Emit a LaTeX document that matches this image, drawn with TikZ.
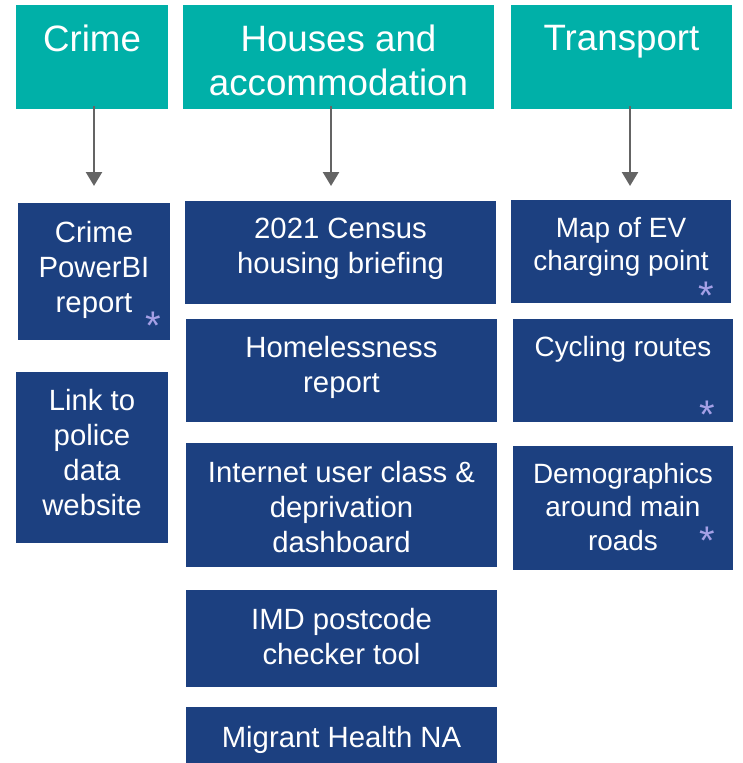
\documentclass[tikz,border=0pt]{standalone}
\usepackage{fontspec}
\setmainfont{Liberation Sans}
\usetikzlibrary{arrows.meta}

\definecolor{head teal}{RGB}{0,176,168}
\definecolor{tile blue}{RGB}{28,64,128}
\definecolor{flow grey}{RGB}{100,100,100}
\definecolor{star lilac}{RGB}{165,160,230}

\def\headfont{\fontsize{36.7}{44}\selectfont}
\def\tilefont{\fontsize{29.3}{35}\selectfont}
\def\narrowfont{\fontsize{27.9}{33.5}\selectfont}
\def\starfont{\fontsize{40}{40}\selectfont}

\tikzset{
  heading/.style={fill=head teal, draw=none, inner sep=0pt},
  headtext/.style={anchor=north, inner sep=0pt, align=center, text=white, font=\headfont},
  tile/.style={fill=tile blue, draw=none, inner sep=0pt},
  tiletext/.style={anchor=north, inner sep=0pt, align=center, text=white, font=\tilefont},
  narrowtext/.style={tiletext, font=\narrowfont},
  starmark/.style={anchor=north, inner sep=0pt, text=star lilac, font=\starfont},
  flow/.style={draw=flow grey, line width=2.5pt, -{Triangle[width=16pt,length=14pt]}}
}

\begin{document}
\begin{tikzpicture}[x=1pt, y=-1pt]
  \useasboundingbox (0,0) rectangle (743,763);

  % column headings
  \node[heading, minimum width=152pt, minimum height=104pt] (crimeHead) at (92,57) {};
  \node[heading, minimum width=311pt, minimum height=104pt] (housesHead) at (338.5,57) {};
  \node[heading, minimum width=221pt, minimum height=104pt] (transportHead) at (621.5,57) {};

  \node[headtext] (crimeTitle) at ([yshift=-20pt]crimeHead.north) {Crime};
  \node[headtext] (housesTitle) at ([yshift=-20pt]housesHead.north) {Houses and\\accommodation};
  \node[headtext] (transportTitle) at ([yshift=-20pt]transportHead.north) {Transport};

  % arrows
  \coordinate (crimeTip) at (94,186);
  \coordinate (housesTip) at (331,186);
  \coordinate (transportTip) at (630,186);

  \draw[flow] ([yshift=3pt]crimeHead.south -| crimeTip) -- (crimeTip);
  \draw[flow] ([yshift=3pt]housesHead.south -| housesTip) -- (housesTip);
  \draw[flow] ([yshift=3pt]transportHead.south -| transportTip) -- (transportTip);

  % crime tiles
  \node[tile, minimum width=152pt, minimum height=137pt] (crimeBI) at (94,271.5) {};
  \node[tile, minimum width=152pt, minimum height=171pt] (policeLink) at (92,457.5) {};

  \node[tiletext] at ([yshift=-18pt]crimeBI.north) {Crime\\PowerBI\\report};
  \node[tiletext] at ([yshift=-17pt]policeLink.north) {Link to\\police\\data\\website};

  % housing tiles
  \node[tile, minimum width=311pt, minimum height=103pt] (census) at (340.5,252.5) {};
  \node[tile, minimum width=311pt, minimum height=103pt] (homeless) at (341.5,370.5) {};
  \node[tile, minimum width=311pt, minimum height=124pt] (internet) at (341.5,505) {};
  \node[tile, minimum width=311pt, minimum height=97pt] (imd) at (341.5,638.5) {};
  \node[tile, minimum width=311pt, minimum height=60pt] (migrant) at (341.5,737) {};

  \node[tiletext] at ([yshift=-17pt]census.north) {2021 Census\\housing briefing};
  \node[tiletext] at ([yshift=-17pt]homeless.north) {Homelessness\\report};
  \node[tiletext] at ([yshift=-18pt]internet.north) {Internet user class \&\\deprivation\\dashboard};
  \node[tiletext] at ([yshift=-18pt]imd.north) {IMD postcode\\checker tool};
  \node[tiletext] at ([yshift=-19pt]migrant.north) {Migrant Health NA};

  % transport tiles
  \node[tile, minimum width=220pt, minimum height=103pt] (evMap) at (621,251.5) {};
  \node[tile, minimum width=220pt, minimum height=103pt] (cycling) at (623,370.5) {};
  \node[tile, minimum width=220pt, minimum height=124pt] (roads) at (623,508) {};

  \node[narrowtext] at ([yshift=-17pt]evMap.north) {Map of EV\\charging point};
  \node[narrowtext] at ([yshift=-17pt]cycling.north) {Cycling routes};
  \node[narrowtext] at ([yshift=-17pt]roads.north) {Demographics\\around main\\roads};

  % asterisks
  \node[starmark] (crimeStar) at (153,312) {*};
  \node[starmark] (evStar) at (706,282) {*};
  \node[starmark] (cyclingStar) at (707,401) {*};
  \node[starmark] (roadsStar) at (707,527) {*};
\end{tikzpicture}
\end{document}
